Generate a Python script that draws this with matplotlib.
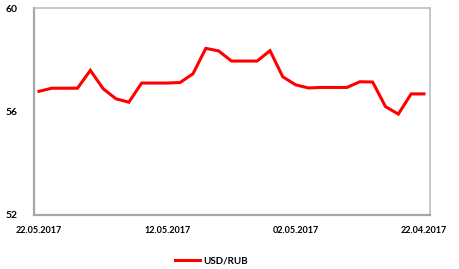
import matplotlib
matplotlib.use("Agg")
import matplotlib.pyplot as plt
from matplotlib.lines import Line2D

dates = ["22.05.2017", "12.05.2017", "02.05.2017", "22.04.2017"]
date_positions = [0, 10, 20, 30]
usd_rub = [56.78, 56.90, 56.90, 56.90, 57.59, 56.88, 56.49, 56.36, 57.10, 57.10,
           57.10, 57.12, 57.46, 58.44, 58.34, 57.95, 57.95, 57.95, 58.35, 57.34,
           57.03, 56.91, 56.93, 56.93, 56.93, 57.15, 57.14, 56.19, 55.90, 56.68,
           56.68]
y_ticks = [52, 56, 60]
series_name = "USD/RUB"

plt.rcParams['font.family'] = ['Lato', 'DejaVu Sans']
fig = plt.figure(figsize=(4.6, 2.69), dpi=100)
ax = fig.add_axes([34/460, 1-215/269, (430-34)/460, (215-8)/269])

x = list(range(len(usd_rub)))
ax.plot(x, usd_rub, color="#ff0000", lw=2.2, solid_joinstyle="miter")
ax.set_xlim(-0.39, 30.47)
ax.set_ylim(52, 60)
ax.set_yticks(y_ticks)
ax.set_yticklabels([str(v) for v in y_ticks], fontweight="bold", fontsize=7.5)
ax.set_xticks(date_positions)
ax.set_xticklabels(dates, fontweight="bold", fontsize=6.5)
ax.tick_params(axis="both", length=0)
ax.tick_params(axis="y", pad=12)
ax.tick_params(axis="x", pad=8)

for s in ["left", "bottom"]:
    ax.spines[s].set_color("#a6a6a6")
    ax.spines[s].set_linewidth(1.6)
for s in ["top", "right"]:
    ax.spines[s].set_color("#bfbfbf")
    ax.spines[s].set_linewidth(1.2)

handle = Line2D([0], [0], color="#ff0000", lw=2.2)
fig.legend([handle], [series_name], loc="center", bbox_to_anchor=(211/460, 1-261/269),
           frameon=False, prop={"weight": "bold", "size": 7}, handlelength=2.6,
           handletextpad=0.3)

fig.savefig("out.png", dpi=100)
